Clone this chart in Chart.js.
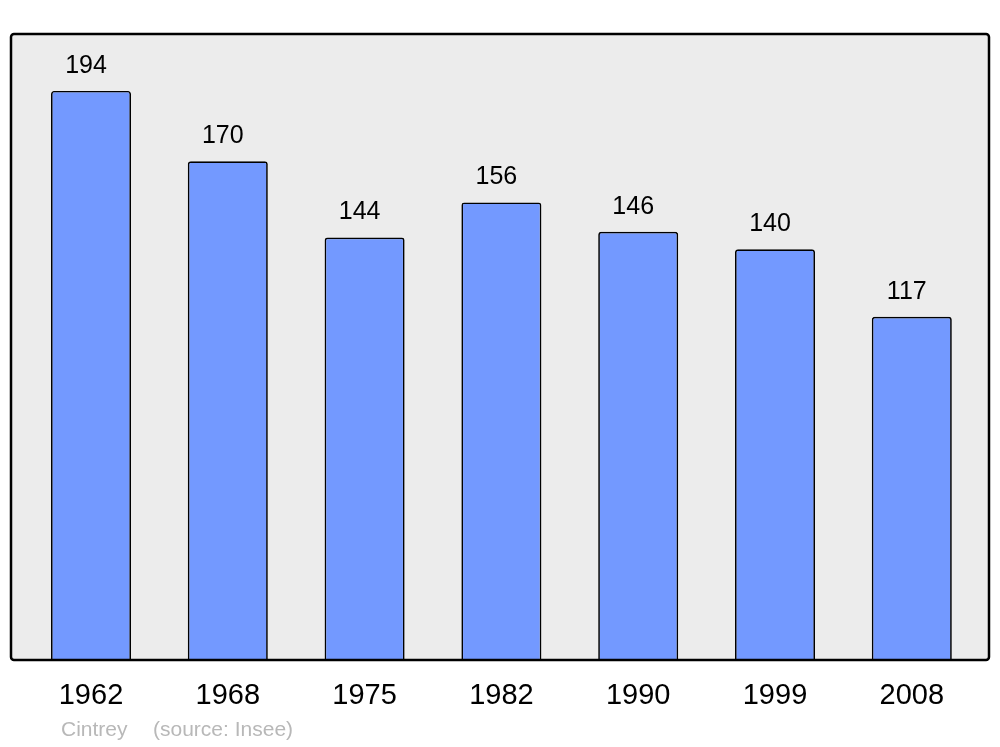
<!DOCTYPE html>
<html>
<head>
<meta charset="utf-8">
<script src="https://cdn.jsdelivr.net/npm/chart.js@4"></script>
<style>
  body { margin: 0; background: #fff; }
  #wrap { width: 1000px; height: 747px; }
</style>
</head>
<body>
<div id="wrap"><canvas id="myChart" width="1000" height="747"></canvas></div>
<script>
const years = ['1962', '1968', '1975', '1982', '1990', '1999', '2008'];
const population = [194, 170, 144, 156, 146, 140, 117];
const yMax = 213.4;
const townName = 'Cintrey';
const sourceText = '(source: Insee)';

const fontFamily = '"Liberation Sans", Arial, sans-serif';

// grey frame behind the bars, outline on top
const framePlugin = {
    id: 'frame',
    beforeDatasetsDraw(chart) {
        const ctx = chart.ctx;
        ctx.save();
        ctx.beginPath();
        ctx.roundRect(11, 34, 978, 626, 3);
        ctx.fillStyle = '#ececec';
        ctx.fill();
        ctx.restore();
    },
    afterDatasetsDraw(chart) {
        const ctx = chart.ctx;
        ctx.save();
        ctx.beginPath();
        ctx.roundRect(11, 34, 978, 626, 3);
        ctx.lineWidth = 2.5;
        ctx.strokeStyle = '#000';
        ctx.stroke();

        // values above bars
        const meta = chart.getDatasetMeta(0);
        ctx.font = '25px ' + fontFamily;
        ctx.fillStyle = '#000';
        ctx.textAlign = 'center';
        ctx.textBaseline = 'middle';
        meta.data.forEach((bar, i) => {
            ctx.fillText(population[i], bar.x - 5, bar.y - 25);
        });

        // source line
        ctx.font = '21px ' + fontFamily;
        ctx.fillStyle = '#b8b8b8';
        ctx.textAlign = 'left';
        ctx.fillText(townName, 61, 730);
        ctx.fillText(sourceText, 153, 730);
        ctx.restore();
    }
};

var ctx = document.getElementById('myChart');
var myChart = new Chart(ctx, {
    type: 'bar',
    data: {
        labels: years,
        datasets: [{
            data: population,
            backgroundColor: '#7399ff',
            borderColor: '#000',
            borderWidth: 1.7,
            borderSkipped: 'bottom',
            borderRadius: { topLeft: 3, topRight: 3, bottomLeft: 0, bottomRight: 0 },
            barPercentage: 0.585,
            categoryPercentage: 1
        }]
    },
    options: {
        responsive: false,
        animation: false,
        layout: {
            padding: { left: 22.6, right: 19.8, top: 34, bottom: 0 }
        },
        plugins: {
            legend: { display: false },
            tooltip: { enabled: false }
        },
        scales: {
            x: {
                grid: { display: false, drawTicks: false },
                border: { display: false },
                ticks: {
                    color: '#000',
                    font: { family: fontFamily, size: 29 },
                    padding: 19
                },
                afterFit(scale) {
                    scale.height = 87;
                }
            },
            y: {
                display: false,
                min: 0,
                max: yMax
            }
        }
    },
    plugins: [framePlugin]
});
</script>
</body>
</html>
